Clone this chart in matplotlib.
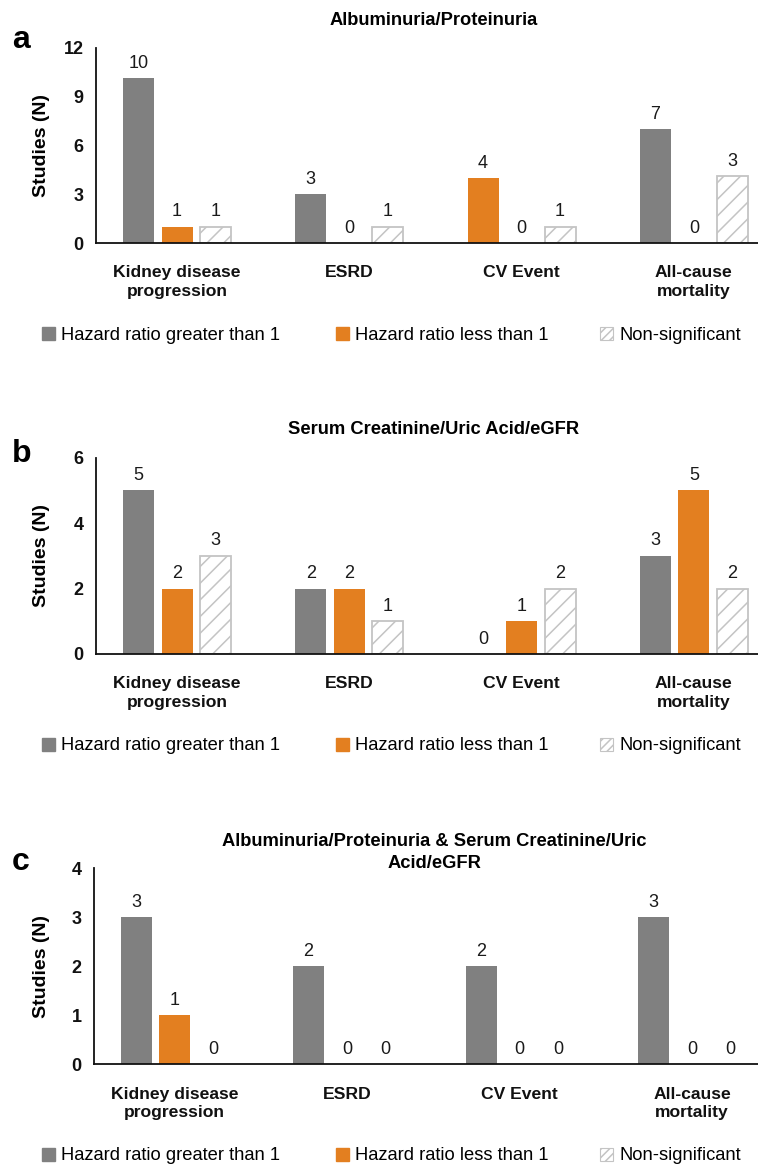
import matplotlib
matplotlib.use("Agg")
import matplotlib.pyplot as plt
from matplotlib.patches import Patch

plt.rcParams['font.family'] = ['Liberation Sans', 'DejaVu Sans']
plt.rcParams['hatch.color'] = '#c4c4c4'
plt.rcParams['hatch.linewidth'] = 1.1

# Data
categories = ["Kidney disease\nprogression", "ESRD", "CV Event", "All-cause\nmortality"]
series_names = ["Hazard ratio greater than 1", "Hazard ratio less than 1", "Non-significant"]

# printed labels
a_greater = [10, 3, 4, 7]
a_less = [1, 0, 0, 0]
a_ns = [1, 1, 1, 3]
# heights as drawn (a few bars differ from their labels)
a_greater_h = [10.15, 3, 4, 7]
a_less_h = [1, 0, 0, 0]
a_ns_h = [1, 1, 1, 4.1]
# first bar of the CV Event group is drawn orange in the original
a_greater_orange = [False, False, True, False]

b_greater = [5, 2, 0, 3]
b_less = [2, 2, 1, 5]
b_ns = [3, 1, 2, 2]

c_greater = [3, 2, 2, 3]
c_less = [1, 0, 0, 0]
c_ns = [0, 0, 0, 0]

titles = ["Albuminuria/Proteinuria",
          "Serum Creatinine/Uric Acid/eGFR",
          "Albuminuria/Proteinuria & Serum Creatinine/Uric\nAcid/eGFR"]
letters = ["a", "b", "c"]
yticks = [[0, 3, 6, 9, 12], [0, 2, 4, 6], [0, 1, 2, 3, 4]]

GRAY = '#808080'
ORANGE = '#e37f20'
HATCH_EDGE = '#c4c4c4'

W, H = 758, 1166
fig = plt.figure(figsize=(W / 100, H / 100), dpi=100)

def px(x, y):
    return x / W, 1 - y / H

# panel layout in pixels: axis left, axis top, axis bottom, first group centre, group spacing
layouts = [
    (96, 48, 243, 177, 172.3),
    (96, 457.7, 654, 177, 172.3),
    (94, 868.3, 1064.3, 174.5, 172.5),
]
title_y = [[20.7], [430], [842, 863]]
letter_base = [48, 462, 870]
legend_y = [335, 746, 1156]
legend_x = [42, 336, 600]

panels = [
    (a_greater_h, a_less_h, a_ns_h, a_greater, a_less, a_ns, a_greater_orange),
    (b_greater, b_less, b_ns, b_greater, b_less, b_ns, [False] * 4),
    (c_greater, c_less, c_ns, c_greater, c_less, c_ns, [False] * 4),
]

handles = [Patch(facecolor=GRAY, edgecolor=GRAY),
           Patch(facecolor=ORANGE, edgecolor=ORANGE),
           Patch(facecolor='white', edgecolor=HATCH_EDGE, hatch='////', linewidth=0.8)]

for k, (gh, lh, nh, gl, ll, nl, g_or) in enumerate(panels):
    left, top, bottom, c0, step = layouts[k]
    ax = fig.add_axes([left / W, 1 - bottom / H, 1 - left / W, (bottom - top) / H])
    ax.set_xlim((left - c0) / step, (W - c0) / step)
    ax.set_ylim(0, yticks[k][-1])

    off = 38.5 / step
    bw = 31 / step
    for i in range(len(categories)):
        if gh[i] > 0:
            ax.bar(i - off, gh[i], bw, color=ORANGE if g_or[i] else GRAY, zorder=2)
        if lh[i] > 0:
            ax.bar(i, lh[i], bw, color=ORANGE, zorder=2)
        if nh[i] > 0:
            ax.bar(i + off, nh[i], bw, facecolor='white', edgecolor=HATCH_EDGE,
                   hatch='//', linewidth=1.3, zorder=2)
        for dx, h, lab in [(-off, gh[i], gl[i]), (0, lh[i], ll[i]), (off, nh[i], nl[i])]:
            ax.annotate(str(lab), (i + dx, h), xytext=(0, 7.5), textcoords='offset points',
                        ha='center', va='baseline', fontsize=13, color='#1a1a1a')

    ax.set_xticks(range(len(categories)))
    ax.set_xticklabels(categories, fontsize=12.6, fontweight='bold', linespacing=1.3)
    ax.set_yticks(yticks[k])
    ax.set_yticklabels([str(t) for t in yticks[k]], fontsize=13, fontweight='bold')
    ax.tick_params(axis='both', length=0, colors='#111111')
    ax.tick_params(axis='x', pad=16)
    ax.tick_params(axis='y', pad=9)
    for s in ['top', 'right']:
        ax.spines[s].set_visible(False)
    for s in ['left', 'bottom']:
        ax.spines[s].set_linewidth(1.3)
        ax.spines[s].set_color('#111111')
    ax.set_ylabel("Studies (N)", fontsize=14, fontweight='bold')
    ax.yaxis.set_label_coords((50 - left) / (W - left), 0.5)

    # title
    for j, line in enumerate(titles[k].split("\n")):
        fig.text(434 / W, px(0, title_y[k][j])[1], line, ha='center', va='center',
                 fontsize=13.2, fontweight='bold')
    # panel letter
    fig.text(12 / W, px(0, letter_base[k])[1], letters[k], ha='left', va='baseline',
             fontsize=23, fontweight='bold')

    # legend entries placed one by one
    for h, name, lx in zip(handles, series_names, legend_x):
        fig.legend([h], [name], loc='center left', bbox_to_anchor=px(lx, legend_y[k]),
                   frameon=False, fontsize=13.2, handlelength=0.7, handleheight=0.7,
                   handletextpad=0.35, borderpad=0, borderaxespad=0)

fig.savefig("out.png", dpi=100)
